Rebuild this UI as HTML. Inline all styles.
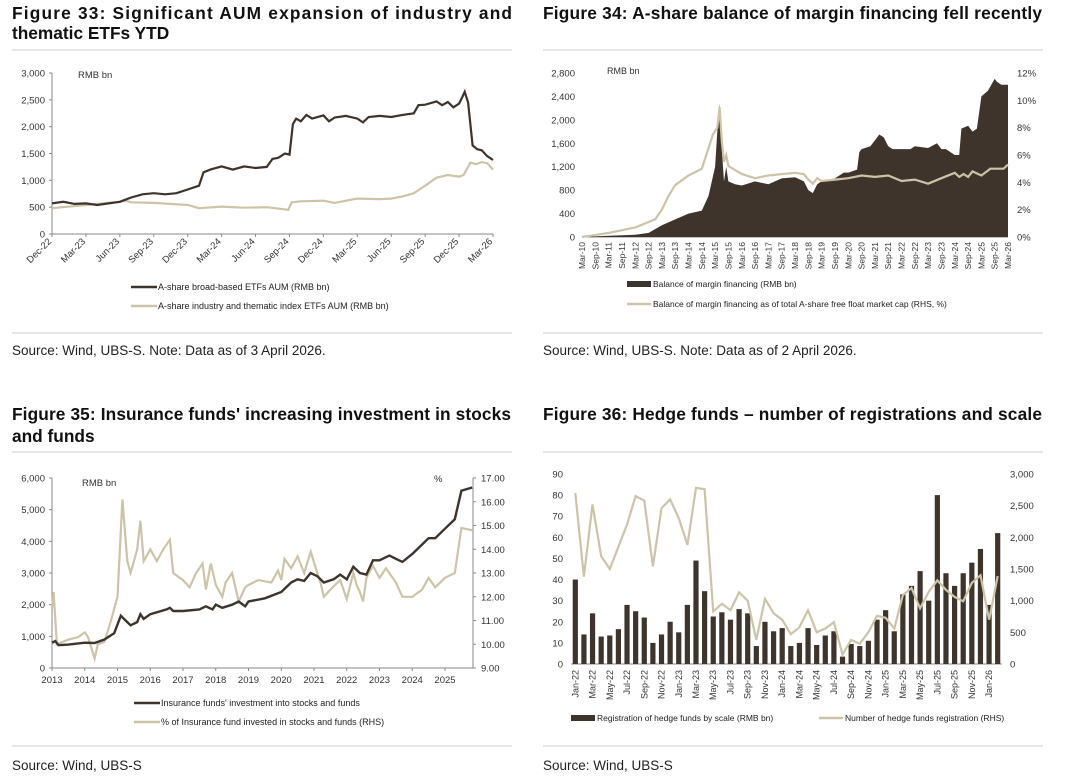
<!DOCTYPE html>
<html><head><meta charset="utf-8"><style>
body{margin:0;background:#fff;width:1080px;height:783px;overflow:hidden}
svg{display:block;font-family:"Liberation Sans",sans-serif}
.t{font-size:17.3px;font-weight:bold;fill:#111}
.s{font-size:13.5px;fill:#222}
.tk{font-size:9.5px;fill:#333}
.lg{font-size:9px;fill:#222}
</style></head><body>
<svg id="root" width="1080" height="783" viewBox="0 0 1080 783">
<g>
<text class="t" x="12" y="19" textLength="500" lengthAdjust="spacing">Figure 33: Significant AUM expansion of industry and</text>
<text class="t" x="12" y="39">thematic ETFs YTD</text></g>
<text class="t" x="543" y="19" textLength="499" lengthAdjust="spacing">Figure 34: A-share balance of margin financing fell recently</text>
<g>
<text class="t" x="12" y="420" textLength="499" lengthAdjust="spacing">Figure 35: Insurance funds' increasing investment in stocks</text>
<text class="t" x="12" y="442">and funds</text></g>
<text class="t" x="543" y="420" textLength="499" lengthAdjust="spacing">Figure 36: Hedge funds – number of registrations and scale</text>
<g stroke="#ddd" stroke-width="1.5">
<line x1="12" x2="512" y1="50" y2="50"/><line x1="543" x2="1043" y1="50" y2="50"/>
<line x1="12" x2="512" y1="333" y2="333"/><line x1="543" x2="1043" y1="333" y2="333"/>
<line x1="12" x2="512" y1="452" y2="452"/><line x1="543" x2="1043" y1="452" y2="452"/>
<line x1="12" x2="512" y1="746" y2="746"/><line x1="543" x2="1043" y1="746" y2="746"/>
</g>
<text class="s" x="12" y="355">Source: Wind, UBS-S. Note: Data as of 3 April 2026.</text>
<text class="s" x="543" y="355">Source: Wind, UBS-S. Note: Data as of 2 April 2026.</text>
<text class="s" x="12" y="770">Source: Wind, UBS-S</text>
<text class="s" x="543" y="770">Source: Wind, UBS-S</text>
<g id="c1"></g><g id="c2"></g><g id="c3"></g><g id="c4"></g>
</svg>
<script>
// ---- Chart 1 data (x = months since Dec-22) ----
const c1Ticks = ["Dec-22","Mar-23","Jun-23","Sep-23","Dec-23","Mar-24","Jun-24","Sep-24","Dec-24","Mar-25","Jun-25","Sep-25","Dec-25","Mar-26"];
const c1YTicks = [0,500,1000,1500,2000,2500,3000];
const c1BroadM = [0,1,2,3,4,5,6,7,8,9,10,11,12,13,13.4,14,15,16,17,18,19,19.5,20,20.6,21,21.3,21.6,22,22.5,23,24,24.5,25,26,27,27.5,28,29,30,31,32,32.4,33,34,34.5,35,35.5,36,36.3,36.5,36.8,37.2,37.6,38,38.5,39];
const c1BroadV = [570,600,560,570,540,570,600,680,740,760,740,760,830,900,1150,1200,1260,1200,1260,1230,1250,1400,1420,1500,1480,2050,2150,2100,2220,2150,2210,2100,2170,2200,2150,2080,2180,2200,2180,2220,2250,2400,2410,2470,2400,2460,2360,2430,2560,2650,2450,1650,1580,1560,1450,1380];
const c1ThemM = [0,3,6,6.5,7,9,12,13,15,17,19,20.9,21.2,22,24,25,26,27,29,30,31,32,33,34,35,36,36.4,37,37.5,38,38.5,39];
const c1ThemV = [480,540,600,620,590,580,540,480,510,490,500,450,590,610,620,580,620,660,650,660,700,760,900,1050,1100,1070,1100,1330,1300,1340,1320,1200];
// ---- Chart 2 data (x = months since Mar-10) ----
const c2Ticks = ["Mar-10","Sep-10","Mar-11","Sep-11","Mar-12","Sep-12","Mar-13","Sep-13","Mar-14","Sep-14","Mar-15","Sep-15","Mar-16","Sep-16","Mar-17","Sep-17","Mar-18","Sep-18","Mar-19","Sep-19","Mar-20","Sep-20","Mar-21","Sep-21","Mar-22","Sep-22","Mar-23","Sep-23","Mar-24","Sep-24","Mar-25","Sep-25","Mar-26"];
const c2YTicks = [0,400,800,1200,1600,2000,2400,2800];
const c2RTicks = [0,2,4,6,8,10,12];
const c2AreaM = [0,12,24,30,36,42,48,54,57,60,61,62,63,64,65,66,69,72,78,84,90,96,100,102,104,106,108,114,118,120,124,125,126,130,132,134,136,138,140,144,148,150,156,160,162,164,168,170,171,174,176,178,180,183,186,187,189,192];
const c2AreaV = [0,20,40,70,200,300,400,450,700,1200,1800,2270,1500,950,1200,950,900,880,950,900,1000,1020,950,800,750,900,950,1000,1100,1100,1150,1450,1500,1550,1650,1750,1700,1550,1500,1500,1500,1550,1520,1600,1500,1500,1400,1400,1850,1900,1800,1850,2400,2500,2700,2650,2600,2600];
const c2LineM = [0,12,18,24,30,33,36,39,42,48,54,57,59,61,62,63,64,65,66,72,78,84,90,96,100,102,104,106,108,114,120,126,132,138,144,150,156,162,168,170,172,174,176,180,184,190,192];
const c2LineV = [0,0.3,0.5,0.7,1.1,1.3,2.0,3.0,3.8,4.5,5.0,6.5,7.5,8.0,9.5,7.0,5.5,6.0,5.2,4.6,4.3,4.5,4.6,4.7,4.6,4.2,3.9,4.3,4.1,4.2,4.3,4.5,4.4,4.5,4.1,4.2,3.9,4.3,4.7,4.4,4.6,4.4,4.8,4.5,5.0,5.0,5.3];
// ---- Chart 3 data (x = years since 2013) ----
const c3Ticks = ["2013","2014","2015","2016","2017","2018","2019","2020","2021","2022","2023","2024","2025"];
const c3YTicks = [0,1000,2000,3000,4000,5000,6000];
const c3RTicks = [9,10,11,12,13,14,15,16,17];
const c3InvY = [0,0.1,0.2,0.5,1,1.3,1.6,1.9,2.1,2.4,2.6,2.7,2.8,3,3.5,3.6,3.7,4,4.5,4.7,4.9,5,5.2,5.5,5.7,5.9,6,6.5,7,7.3,7.5,7.7,7.9,8.1,8.3,8.6,8.8,9,9.2,9.4,9.6,9.8,10,10.3,10.5,10.7,11,11.3,11.5,11.7,12,12.3,12.5,12.83];
const c3InvV = [800,850,720,740,800,790,900,1100,1650,1350,1450,1700,1550,1700,1850,1900,1800,1800,1850,1950,1850,2000,1900,2000,2100,1950,2100,2200,2400,2700,2800,2750,3000,2900,2700,2800,2950,2800,3200,3000,2950,3400,3400,3550,3450,3350,3600,3900,4100,4100,4400,4700,5600,5700];
const c3PctY = [0,0.05,0.15,0.5,0.8,1,1.1,1.3,1.4,1.6,1.8,2,2.15,2.3,2.4,2.6,2.7,2.8,3,3.2,3.4,3.6,3.7,3.9,4,4.2,4.4,4.6,4.7,4.85,5,5.2,5.3,5.5,5.7,5.9,6,6.3,6.7,6.9,7,7.1,7.3,7.5,7.7,7.9,8.1,8.2,8.3,8.5,8.8,9,9.2,9.3,9.4,9.5,9.6,9.8,10,10.2,10.5,10.7,11,11.3,11.5,11.7,12,12.3,12.5,12.83];
const c3PctV = [11.5,12.2,10.0,10.2,10.3,10.5,10.3,9.4,10.0,10.1,11.0,12.0,16.1,13.5,13.0,14.0,15.2,13.5,14.0,13.5,14.0,14.4,13.0,12.8,12.7,12.4,13.0,13.4,12.3,13.4,12.5,12.0,12.6,13.0,11.8,12.4,12.5,12.7,12.6,13.1,12.7,13.6,13.2,13.7,13.0,13.9,13.0,12.6,12.0,12.3,12.7,11.9,13.0,12.5,12.2,11.8,12.8,13.3,12.8,13.2,12.6,12.0,12.0,12.3,12.8,12.4,12.8,13.0,14.9,14.8];
// ---- Chart 4 data (monthly Jan-22 .. Feb-26) ----
const c4Months = ["Jan-22","Feb-22","Mar-22","Apr-22","May-22","Jun-22","Jul-22","Aug-22","Sep-22","Oct-22","Nov-22","Dec-22","Jan-23","Feb-23","Mar-23","Apr-23","May-23","Jun-23","Jul-23","Aug-23","Sep-23","Oct-23","Nov-23","Dec-23","Jan-24","Feb-24","Mar-24","Apr-24","May-24","Jun-24","Jul-24","Aug-24","Sep-24","Oct-24","Nov-24","Dec-24","Jan-25","Feb-25","Mar-25","Apr-25","May-25","Jun-25","Jul-25","Aug-25","Sep-25","Oct-25","Nov-25","Dec-25","Jan-26","Feb-26"];
const c4Scale = [40,14,24,13,13.5,16.5,28,25,22,10,14,20,15,28,49,34.5,22.5,24.5,21,26,24,8.5,20,15.5,17,8.5,10,17,9,13.5,15.5,3.5,9.5,8.5,11,21,25.5,15.5,33,37,44,30,80,43,37,43,48,54.5,28,62];
const c4Count = [2700,1380,2520,1700,1500,1850,2200,2650,2580,1540,2460,2600,2300,1880,2780,2760,830,950,850,1130,1000,380,1030,800,700,470,580,850,500,560,660,150,380,320,500,760,730,560,1090,1200,880,1140,1320,1170,1060,990,1280,1400,700,1390];
const c4YTicks = [0,10,20,30,40,50,60,70,80,90];
const c4RTicks = [0,500,1000,1500,2000,2500,3000];

const NS="http://www.w3.org/2000/svg";
const DARK="#3e342b", LIGHT="#cdc3a6", AX="#888";
function mk(parent,tag,attrs,text){const e=document.createElementNS(NS,tag);for(const k in attrs)e.setAttribute(k,attrs[k]);if(text!==undefined)e.textContent=text;parent.appendChild(e);return e;}
function fmt(v){return v.toLocaleString("en-US");}
function pathOf(xs,ys,fx,fy){return xs.map((m,i)=>(i?"L":"M")+fx(m).toFixed(1)+","+fy(ys[i]).toFixed(1)).join("");}

// ===== Chart 1 =====
(function(){
const g=document.getElementById("c1");


const X0=52,X1=493,Y0=234,Y1=73;
const fx=m=>X0+m/39*(X1-X0), fy=v=>Y0-v/3000*(Y0-Y1);
mk(g,"line",{x1:X0,x2:X0,y1:Y1,y2:Y0,stroke:AX});
mk(g,"line",{x1:X0,x2:X1,y1:Y0,y2:Y0,stroke:AX});
c1YTicks.forEach(v=>{mk(g,"line",{x1:X0-3,x2:X0,y1:fy(v),y2:fy(v),stroke:AX});
 const t=mk(g,"text",{class:"tk",x:X0-7,y:fy(v)+3.5,"text-anchor":"end"},fmt(v));
 
 });
c1Ticks.forEach((s,i)=>{const x=fx(i*3);mk(g,"line",{x1:x,x2:x,y1:Y0,y2:Y0+3,stroke:AX});
 const t=mk(g,"text",{class:"tk",x:x,y:Y0+8,"text-anchor":"end",transform:`rotate(-45 ${x} ${Y0+8})`},s);
 
 });
const u=mk(g,"text",{class:"tk",x:78,y:78},"RMB bn");


const a=mk(g,"path",{d:pathOf(c1ThemM,c1ThemV,fx,fy),fill:"none",stroke:LIGHT,"stroke-width":2.2});


const b=mk(g,"path",{d:pathOf(c1BroadM,c1BroadV,fx,fy),fill:"none",stroke:DARK,"stroke-width":2.2});


[[DARK,"A-share broad-based ETFs AUM (RMB bn)",287],[LIGHT,"A-share industry and thematic index ETFs AUM (RMB bn)",306]].forEach(([c,s,y])=>{
 const lg=mk(g,"g",{});
 
 
 mk(lg,"line",{x1:131,x2:157,y1:y,y2:y,stroke:c,"stroke-width":2.5});
 mk(lg,"text",{class:"lg",x:158,y:y+3},s);});
})();

// ===== Chart 2 =====
(function(){
const g=document.getElementById("c2");


const X0=582,X1=1008,Y0=237,Y1=73;
const fx=m=>X0+m/192*(X1-X0), fy=v=>Y0-v/2800*(Y0-Y1), fr=v=>Y0-v/12*(Y0-Y1);
mk(g,"line",{x1:X0,x2:X1,y1:Y0,y2:Y0,stroke:AX});
c2YTicks.forEach(v=>{const t=mk(g,"text",{class:"tk",x:X0-7,y:fy(v)+3.5,"text-anchor":"end"},fmt(v));
 
 });
c2RTicks.forEach(v=>{const t=mk(g,"text",{class:"tk",x:1017,y:fr(v)+3.5},v+"%");
 
 });
c2Ticks.forEach((s,i)=>{const x=fx(i*6)+3;
 const t=mk(g,"text",{class:"tk",x:x,y:Y0+5,"text-anchor":"end",transform:`rotate(-90 ${x} ${Y0+5})`,style:"font-size:8.5px"},s);
 
 });
const u=mk(g,"text",{class:"tk",x:607,y:74,style:"font-size:9px"},"RMB bn");


const ar=mk(g,"path",{d:pathOf(c2AreaM,c2AreaV,fx,fy)+`L${fx(192)},${Y0}L${fx(0)},${Y0}Z`,fill:DARK});


const ln=mk(g,"path",{d:pathOf(c2LineM,c2LineV,fx,fr),fill:"none",stroke:LIGHT,"stroke-width":2.2});


const l1=mk(g,"g",{});


mk(l1,"rect",{x:627,y:281,width:24,height:6,fill:DARK});
mk(l1,"text",{class:"lg",x:653,y:287,style:"font-size:8.5px"},"Balance of margin financing (RMB bn)");
const l2=mk(g,"g",{});


mk(l2,"line",{x1:627,x2:651,y1:304,y2:304,stroke:LIGHT,"stroke-width":2.5});
mk(l2,"text",{class:"lg",x:653,y:307,style:"font-size:8.5px"},"Balance of margin financing as of total A-share free float market cap (RHS, %)");
})();

// ===== Chart 3 =====
(function(){
const g=document.getElementById("c3");


const X0=52,X1=473,Y0=668,Y1=478,YS=32.75;
const fx=y=>X0+y*YS, fy=v=>Y0-v/6000*(Y0-Y1), fr=v=>Y0-(v-9)/8*(Y0-Y1);
mk(g,"line",{x1:X0,x2:X0,y1:Y1,y2:Y0,stroke:AX});
mk(g,"line",{x1:X1,x2:X1,y1:Y1,y2:Y0,stroke:AX});
mk(g,"line",{x1:X0,x2:X1,y1:Y0,y2:Y0,stroke:AX});
c3YTicks.forEach(v=>{mk(g,"line",{x1:X0-3,x2:X0,y1:fy(v),y2:fy(v),stroke:AX});
 const t=mk(g,"text",{class:"tk",x:X0-7,y:fy(v)+3.5,"text-anchor":"end"},fmt(v));
 
 });
c3RTicks.forEach(v=>{mk(g,"line",{x1:X1,x2:X1+3,y1:fr(v),y2:fr(v),stroke:AX});
 const t=mk(g,"text",{class:"tk",x:X1+8,y:fr(v)+3.5},v.toFixed(2));
 
 });
c3Ticks.forEach((s,i)=>{const x=fx(i);mk(g,"line",{x1:x,x2:x,y1:Y0,y2:Y0+3,stroke:AX});
 const t=mk(g,"text",{class:"tk",x:x,y:Y0+15,"text-anchor":"middle"},s);
 
 });
const u=mk(g,"text",{class:"tk",x:82,y:486},"RMB bn");


const u2=mk(g,"text",{class:"tk",x:434,y:482},"%");


const a=mk(g,"path",{d:pathOf(c3PctY,c3PctV,fx,fr),fill:"none",stroke:LIGHT,"stroke-width":2.2});


const b=mk(g,"path",{d:pathOf(c3InvY,c3InvV,fx,fy),fill:"none",stroke:DARK,"stroke-width":2.4});


[[DARK,"Insurance funds' investment into stocks and funds",703],[LIGHT,"% of Insurance fund invested in stocks and funds (RHS)",722]].forEach(([c,s,y])=>{
 const lg=mk(g,"g",{});
 
 
 mk(lg,"line",{x1:134,x2:160,y1:y,y2:y,stroke:c,"stroke-width":2.5});
 mk(lg,"text",{class:"lg",x:161,y:y+3},s);});
})();

// ===== Chart 4 =====
(function(){
const g=document.getElementById("c4");


const X0=571,X1=1002,Y0=664,Y1=474,N=c4Months.length,step=(X1-X0)/N;
const fx=i=>X0+(i+0.5)*step, fy=v=>Y0-v/90*(Y0-Y1), fr=v=>Y0-v/3000*(Y0-Y1);
mk(g,"line",{x1:X0,x2:X1,y1:Y0,y2:Y0,stroke:AX});
c4YTicks.forEach(v=>{const t=mk(g,"text",{class:"tk",x:563,y:fy(v)+3.5,"text-anchor":"end"},v);
 
 });
c4RTicks.forEach(v=>{const t=mk(g,"text",{class:"tk",x:1010,y:fr(v)+3.5},fmt(v));
 
 });
c4Months.forEach((s,i)=>{
 const r=mk(g,"rect",{x:fx(i)-2.6,y:fy(c4Scale[i]),width:5.2,height:Y0-fy(c4Scale[i]),fill:DARK});
 
 
 if(i%2===0){const x=fx(i)+3;
  const t=mk(g,"text",{class:"tk",x:x,y:Y0+6,"text-anchor":"end",transform:`rotate(-90 ${x} ${Y0+6})`,style:"font-size:9px"},s);
  
  }
});
const ln=mk(g,"path",{d:pathOf(c4Months.map((_,i)=>i),c4Count,fx,fr),fill:"none",stroke:LIGHT,"stroke-width":2.2});


const l1=mk(g,"g",{});


mk(l1,"rect",{x:571,y:715,width:24,height:6,fill:DARK});
mk(l1,"text",{class:"lg",x:597,y:721,style:"font-size:8.5px"},"Registration of hedge funds by scale (RMB bn)");
const l2=mk(g,"g",{});


mk(l2,"line",{x1:819,x2:843,y1:718,y2:718,stroke:LIGHT,"stroke-width":2.5});
mk(l2,"text",{class:"lg",x:845,y:721,style:"font-size:8.5px"},"Number of hedge funds registration (RHS)");
})();
</script>
</body></html>
